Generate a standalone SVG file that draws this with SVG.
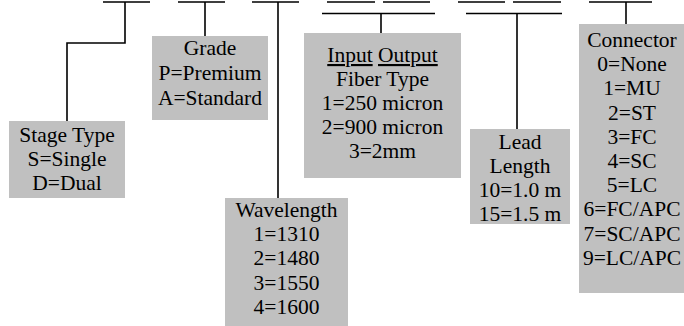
<svg xmlns="http://www.w3.org/2000/svg" width="684" height="326" viewBox="0 0 684 326">
<style>
.box{fill:#c0c0c0;stroke:none}
.ln{stroke:#000;stroke-width:1.6;fill:none}
text{font-family:"Liberation Serif","Times New Roman",serif;font-size:21.5px;fill:#000;text-anchor:middle}
.u{text-decoration:underline}
</style>
<rect width="684" height="326" fill="#fff"/>
<g id="connectors">
<path class="ln" d="M103 2H150M178 2H225M252 2H299M327 2H375M383 2H430M458 2H505M513 2H561M589 2H652"/>
<path class="ln" d="M322 13.5H435M466 13.5H562"/>
<path class="ln" d="M125 2V43H67V121"/>
<path class="ln" d="M205 2V36"/>
<path class="ln" d="M278 2V198"/>
<path class="ln" d="M381 13.5V33"/>
<path class="ln" d="M517 13.5V129"/>
<path class="ln" d="M626 2V24"/>
</g>
<g id="stage">
<rect class="box" x="9" y="121" width="116" height="77"/>
<text x="67" y="142">Stage Type</text>
<text x="67" y="166">S=Single</text>
<text x="67" y="190">D=Dual</text>
</g>
<g id="grade">
<rect class="box" x="152" y="36" width="116" height="84"/>
<text x="210" y="55">Grade</text>
<text x="210" y="80">P=Premium</text>
<text x="210" y="105">A=Standard</text>
</g>
<g id="fiber">
<rect class="box" x="304" y="33" width="157" height="145"/>
<text x="382.5" y="62"><tspan class="u">Input</tspan> <tspan class="u">Output</tspan></text>
<text x="382.5" y="86">Fiber Type</text>
<text x="382.5" y="110">1=250 micron</text>
<text x="382.5" y="134">2=900 micron</text>
<text x="382.5" y="158">3=2mm</text>
</g>
<g id="wavelength">
<rect class="box" x="225" y="198" width="123" height="128"/>
<text x="286.5" y="217">Wavelength</text>
<text x="286.5" y="241">1=1310</text>
<text x="286.5" y="265">2=1480</text>
<text x="286.5" y="290">3=1550</text>
<text x="286.5" y="314">4=1600</text>
</g>
<g id="lead">
<rect class="box" x="470" y="129" width="100" height="95"/>
<text x="520" y="149">Lead</text>
<text x="520" y="173">Length</text>
<text x="520" y="197">10=1.0 m</text>
<text x="520" y="221">15=1.5 m</text>
</g>
<g id="connector">
<rect class="box" x="579" y="24" width="110" height="269"/>
<text x="632" y="47">Connector</text>
<text x="632" y="71">0=None</text>
<text x="632" y="95">1=MU</text>
<text x="632" y="120">2=ST</text>
<text x="632" y="144">3=FC</text>
<text x="632" y="168">4=SC</text>
<text x="632" y="192">5=LC</text>
<text x="632" y="216">6=FC/APC</text>
<text x="632" y="241">7=SC/APC</text>
<text x="632" y="265">9=LC/APC</text>
</g>
</svg>
